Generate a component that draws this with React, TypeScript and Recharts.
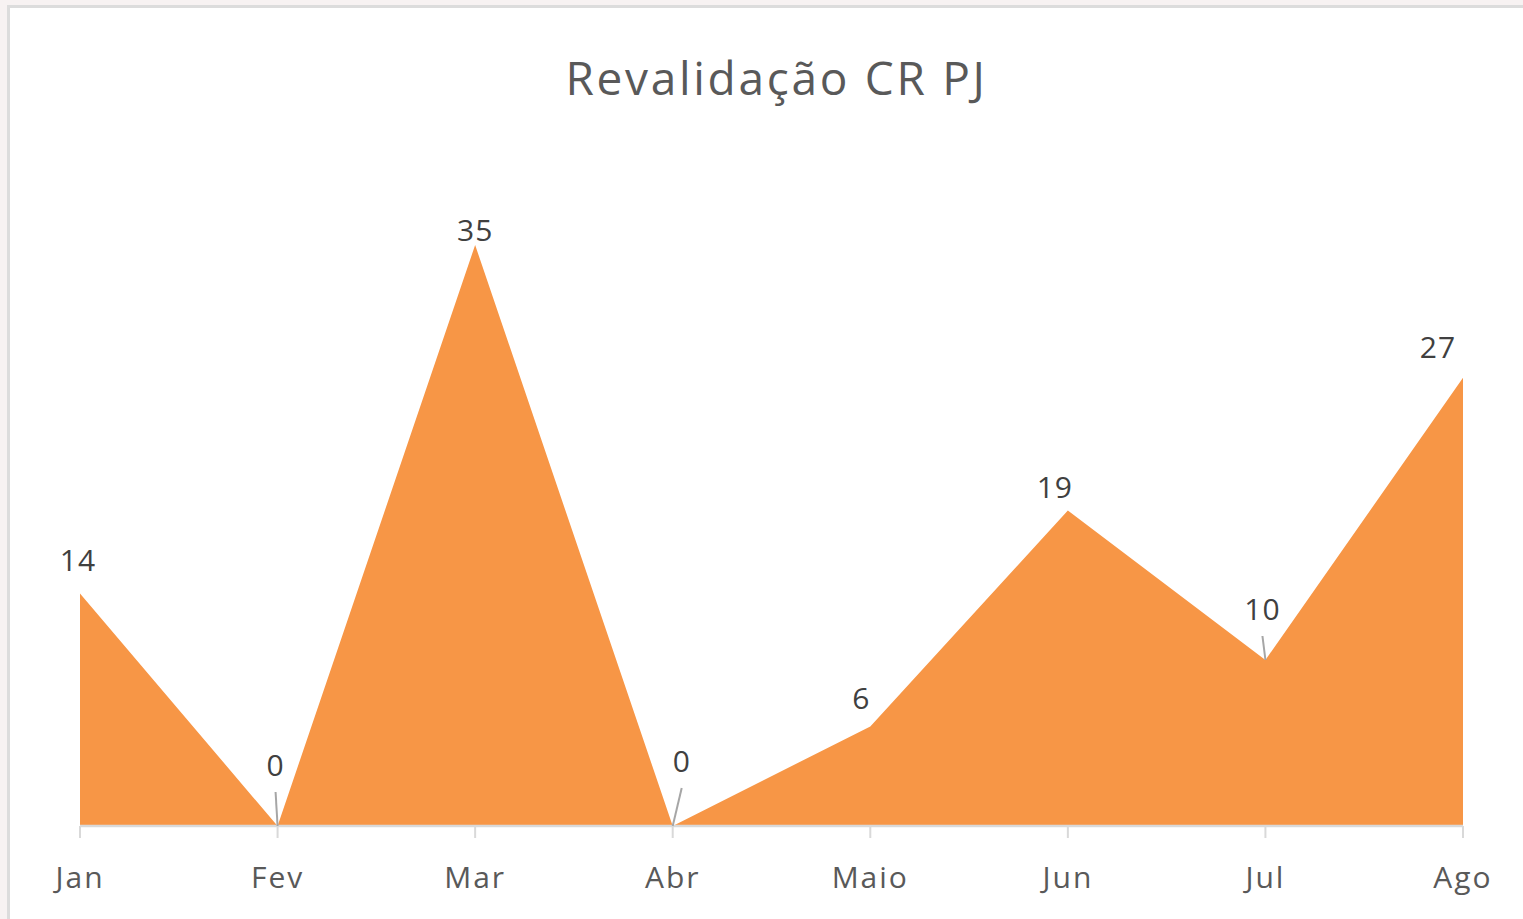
import React from "react";
import { AreaChart, Area, XAxis, YAxis, LabelList } from "recharts";

const months = ["Jan", "Fev", "Mar", "Abr", "Maio", "Jun", "Jul", "Ago"];
const values = [14, 0, 35, 0, 6, 19, 10, 27];

// label displacement from the point (label centre), and whether it gets a leader line
const labelDx = [-2, -2, 0, 9, -9, -13, -3, -25];
const labelDy = [-33, -61, -15, -65, -28, -23, -51, -30];
const leader = [false, true, false, true, false, false, true, false];

const data = months.map((m, i) => ({ month: m, value: values[i] }));

const FONT = "'Open Sans', sans-serif";

const PointLabel = (props: any) => {
  const { x, y, index, value } = props;
  const cx = x + labelDx[index];
  const cy = y + labelDy[index];
  return (
    <g>
      {leader[index] && (
        <line
          x1={cx}
          y1={cy + 27}
          x2={x}
          y2={y}
          stroke="#a6a6a6"
          strokeWidth={2}
        />
      )}
      <text
        x={cx}
        y={cy + 10.5}
        textAnchor="middle"
        fill="#404040"
        fontSize={30}
        fontFamily={FONT}
        letterSpacing={1}
      >
        {value}
      </text>
    </g>
  );
};

export default function App() {
  return (
    <div style={{ position: "relative", width: 1523, height: 919, overflow: "hidden" }}>
      <style>{"body{margin:0;overflow:hidden;background:#f7f2f2}"}</style>
      <div
        style={{
          position: "absolute",
          left: 7,
          top: 5,
          width: 1600,
          height: 1000,
          border: "3px solid #dcdcdc",
          background: "#ffffff",
        }}
      />
      <div
        style={{
          position: "absolute",
          left: 0,
          top: 54,
          width: 1553,
          textAlign: "center",
          fontFamily: FONT,
          fontSize: 46,
          lineHeight: "46px",
          letterSpacing: 2.7,
          color: "#595959",
        }}
      >
        Revalidação CR PJ
      </div>
      <div style={{ position: "absolute", left: 0, top: 0 }}>
        <AreaChart
          width={1523}
          height={919}
          data={data}
          margin={{ top: 162, right: 60, bottom: 33, left: 80 }}
        >
          <YAxis hide domain={[0, 40]} />
          <XAxis
            dataKey="month"
            axisLine={{ stroke: "#d9d9d9", strokeWidth: 2.5 }}
            tickLine={{ stroke: "#d9d9d9", strokeWidth: 2 }}
            tickSize={12}
            tickMargin={29}
            height={60}
            interval={0}
            tick={{ fill: "#595959", fontSize: 30, fontFamily: FONT, letterSpacing: 2 }}
          />
          <Area
            dataKey="value"
            type="linear"
            fill="#f79646"
            fillOpacity={1}
            stroke="none"
            isAnimationActive={false}
          >
            <LabelList dataKey="value" content={PointLabel} />
          </Area>
        </AreaChart>
      </div>
    </div>
  );
}
